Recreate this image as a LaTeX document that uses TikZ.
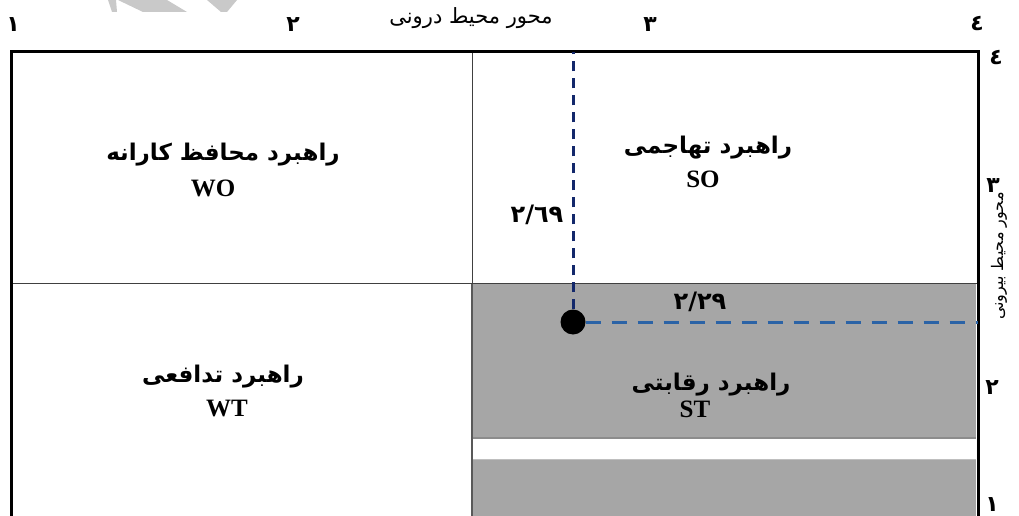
\documentclass[tikz,border=0pt]{standalone}
\usepackage{fontspec}
\setmainfont{Liberation Serif}
\newfontfamily\arabicfont[Script=Arabic]{DejaVu Sans}
\TeXXeTstate=1
\definecolor{cellgray}{HTML}{A6A6A6}
\definecolor{wmgray}{HTML}{C9C9C9}
\definecolor{navyline}{HTML}{13286B}
\definecolor{steelline}{HTML}{2B63A6}

\begin{document}
\begin{tikzpicture}[x=1pt,y=-1pt,
            title/.style={font=\arabicfont\bfseries\fontsize{23}{26}\selectfont},
            code/.style={font=\bfseries\fontsize{25}{28}\selectfont},
            ticklbl/.style={font=\arabicfont\bfseries\fontsize{22}{24}\selectfont},
            valfont/.style={font=\arabicfont\bfseries\fontsize{24}{26}\selectfont},
            guide/.style={line width=3pt}]
            \useasboundingbox (0,0) rectangle (1019,516);

            % watermark remains at the top
            \fill[wmgray] (108,0) -- (116,0) -- (117,12) -- (112,12) -- cycle;
            \fill[wmgray] (118,0) -- (167,0) -- (187,12) -- (143,12) -- cycle;
            \fill[wmgray] (207,0) -- (237,0) -- (227,12) -- (221,12) -- cycle;

            % shaded quadrant
            \fill[cellgray] (472,283) rectangle (976,520);
            \fill[white] (472,438) rectangle (976,459);
            \draw[black!45, line width=1.2pt] (472,438) -- (976,438);
            \draw[black!25] (472,459) -- (976,459);

            % grid and frame
            \draw[black!75, line width=1pt] (472,52) -- (472,283);
            \draw[black!65, line width=2pt] (472,283) -- (472,520);
            \draw[black!75, line width=1pt] (11,283) -- (978,283);
            \draw[line width=3pt] (11,520) -- (11,52) -- (978,52) -- (978,520);

            % point and guide lines
            \node[circle, fill=black, minimum size=25pt, inner sep=0pt] (pt) at (573,322) {};
            \coordinate (topend) at (573,52);
            \coordinate (sideend) at (978,322);
            \draw[navyline, guide, dash pattern=on 10pt off 7pt] (pt) -- (topend);
            \draw[steelline, guide, dash pattern=on 15pt off 11pt] (pt) -- (sideend);
            \node[valfont] (v269) at (537,215) {٢/٦٩};
            \node[valfont] (v229) at (700,302) {٢/٢٩};

            % quadrants
            \node[title] (wo) at (223,155) {\beginR راهبرد محافظ کارانه\endR};
            \node[code] (wocode) at (213,188) {WO};
            \node[title] (so) at (708,148) {\beginR راهبرد تهاجمی\endR};
            \node[code] (socode) at (703,179) {SO};
            \node[title] (wt) at (223,377) {\beginR راهبرد تدافعی\endR};
            \node[code] (wtcode) at (227,408) {WT};
            \node[title] (st) at (711,385) {\beginR راهبرد رقابتی\endR};
            \node[code] (stcode) at (695,409) {ST};

            % axes
            \node[ticklbl] (x1) at (13,25) {١};
            \node[ticklbl] (x2) at (293,25) {٢};
            \node[ticklbl] (x3) at (650,25) {٣};
            \node[ticklbl] (x4) at (977,24) {٤};
            \node[ticklbl, font=\arabicfont\fontsize{21}{23}\selectfont] (inner) at (471,18) {\beginR محور محیط درونی\endR};
            \node[ticklbl] (y4) at (996,58) {٤};
            \node[ticklbl] (y3) at (993,186) {٣};
            \node[ticklbl] (y2) at (992,388) {٢};
            \node[ticklbl] (y1) at (992,505) {١};
            \node[ticklbl, rotate=90, font=\arabicfont\fontsize{16}{18}\selectfont] (outer) at (999,256) {\beginR محور محیط بیرونی\endR};
        \end{tikzpicture}
\end{document}
